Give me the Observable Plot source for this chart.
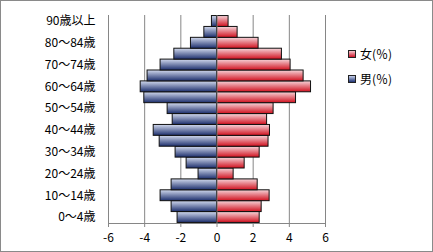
<!DOCTYPE html>
<html><head><meta charset="utf-8">
<script src="https://cdn.jsdelivr.net/npm/d3@7"></script>
<script src="https://cdn.jsdelivr.net/npm/@observablehq/plot@0.6"></script>
<style>
body{margin:0;background:#fff;}
#wrap{position:relative;width:433px;height:252px;overflow:hidden;font-family:"Noto Sans CJK JP",sans-serif;}
#frame{position:absolute;left:0;top:0;width:433px;height:252px;box-sizing:border-box;border:1px solid #8a8a8a;pointer-events:none;}
.leg{position:absolute;left:348px;font-size:12px;line-height:14px;color:#000;display:flex;align-items:center;}
.sw{width:6px;height:6px;border:1px solid #222;margin-right:4px;}
</style></head>
<body>
<div id="wrap"><div id="chart"></div>
<div class="leg" style="top:47px"><span class="sw" style="background:linear-gradient(#f4c8cf,#d0142a)"></span>女(％)</div>
<div class="leg" style="top:72px"><span class="sw" style="background:linear-gradient(#c6d0ea,#1e3274)"></span>男(％)</div>
<div id="frame"></div></div>
<script>
const ages = ["0～4歳","5～9歳","10～14歳","15～19歳","20～24歳","25～29歳","30～34歳","35～39歳","40～44歳","45～49歳","50～54歳","55～59歳","60～64歳","65～69歳","70～74歳","75～79歳","80～84歳","85～89歳","90歳以上"];
const male = [2.18,2.51,3.12,2.51,1.02,1.68,2.29,3.17,3.5,2.45,2.73,4.02,4.22,3.84,3.12,2.36,1.44,0.70,0.28];
const female = [2.36,2.47,2.91,2.25,0.92,1.53,2.36,2.85,2.93,2.77,3.13,4.37,5.2,4.79,4.07,3.59,2.30,1.14,0.64];
const xTicks = [-6,-4,-2,0,2,4,6];
const labeledAges = ages.filter((d,i)=>i%2===0);

const data = ages.map((a,i)=>({age:a, m:male[i], f:female[i]}));

const chart = Plot.plot({
  width:433, height:252,
  marginLeft:108, marginRight:108, marginTop:15, marginBottom:29,
  style:{fontFamily:"'Noto Sans CJK JP',sans-serif", fontSize:"12px", color:"#000", background:"transparent"},
  x:{domain:[-6,6]},
  y:{domain:ages.slice().reverse(), padding:0, paddingOuter:0.05, round:false},
  marks:[
    Plot.gridX(xTicks, {stroke:"#868686", strokeOpacity:1}),
    Plot.barX(data, {x:d=>-d.m, y:"age", fill:"url(#gm)", stroke:"#111", strokeWidth:1}),
    Plot.barX(data, {x:"f", y:"age", fill:"url(#gf)", stroke:"#111", strokeWidth:1}),
    Plot.ruleX([0], {stroke:"#777"}),
    Plot.frame({anchor:"bottom", stroke:"#868686"}),
    Plot.axisX({ticks:xTicks, tickSize:4, tickPadding:6, stroke:"#868686", label:null, tickFormat:d=>String(d).replace("−","-")}),
    Plot.axisY({ticks:labeledAges, tickSize:0, tickPadding:13, label:null})
  ]
});
document.getElementById("chart").appendChild(chart);
const defs = d3.select(chart).insert("defs", ":first-child");
const g1 = defs.append("linearGradient").attr("id","gm").attr("x1",0).attr("y1",0).attr("x2",0).attr("y2",1);
g1.append("stop").attr("offset","0%").attr("stop-color","#d3dbef");
g1.append("stop").attr("offset","100%").attr("stop-color","#1c2e6c");
const g2 = defs.append("linearGradient").attr("id","gf").attr("x1",0).attr("y1",0).attr("x2",0).attr("y2",1);
g2.append("stop").attr("offset","0%").attr("stop-color","#f7d6db");
g2.append("stop").attr("offset","100%").attr("stop-color","#d0101e");
</script>
</body></html>
